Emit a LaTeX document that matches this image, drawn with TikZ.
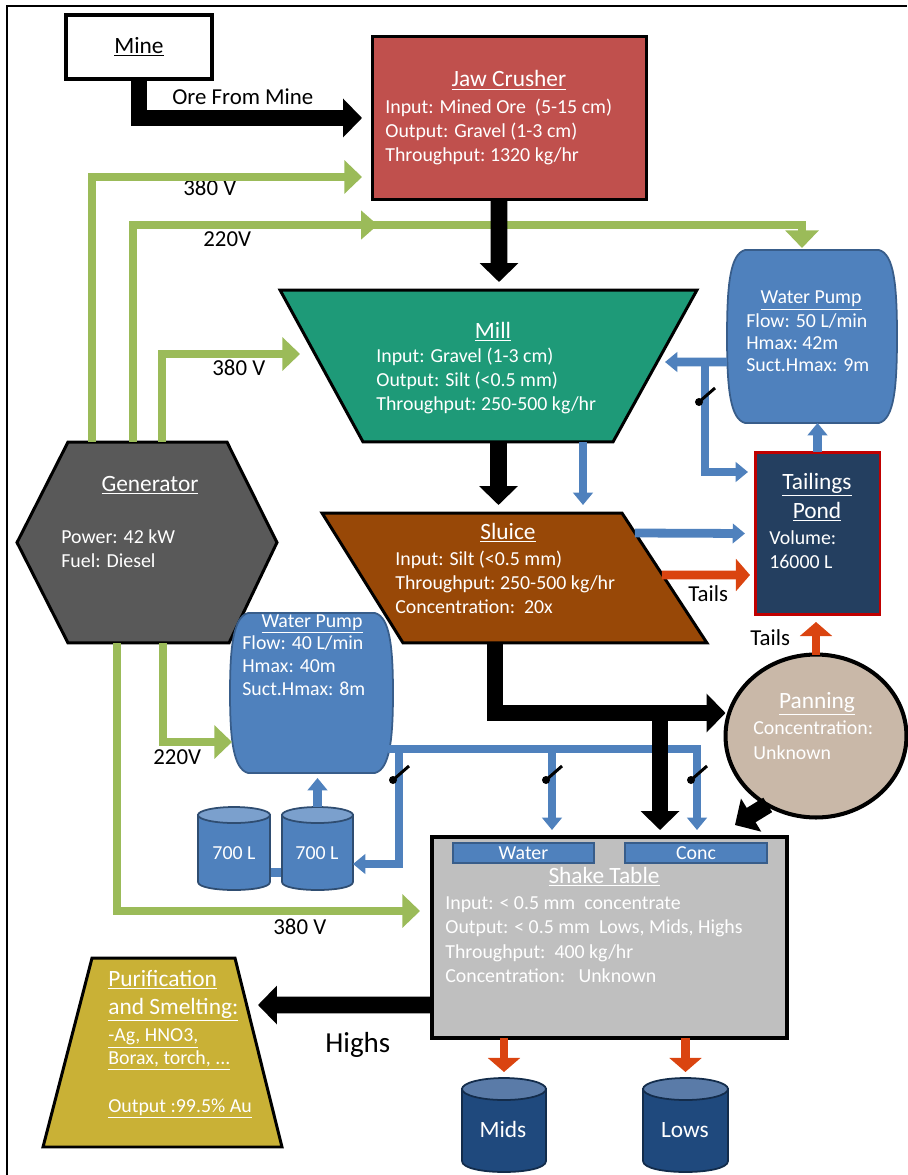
\documentclass[tikz,border=0pt]{standalone}
\usepackage{fontspec}
\setmainfont{Carlito}
\usetikzlibrary{arrows.meta, positioning, shapes.geometric, calc, backgrounds, decorations.markings}
\definecolor{cjaw}{HTML}{C0504D}
\definecolor{cmill}{HTML}{1E9A78}
\definecolor{csluice}{HTML}{984807}
\definecolor{cgen}{HTML}{595959}
\definecolor{cpump}{HTML}{4F81BD}
\definecolor{cpumpdark}{HTML}{385D8A}
\definecolor{cpond}{HTML}{243F60}
\definecolor{cpondedge}{HTML}{C00000}
\definecolor{cpan}{HTML}{C9B8A8}
\definecolor{cshake}{HTML}{BFBFBF}
\definecolor{cgold}{HTML}{C9B136}
\definecolor{cdrum}{HTML}{1F497D}
\definecolor{cdrumtop}{HTML}{5A7BA8}
\definecolor{cgreen}{HTML}{9BBB59}
\definecolor{ctails}{HTML}{DA4410}
\newcommand{\bodyfont}{\fontsize{11.3}{13.6}\selectfont}
\newcommand{\headfont}{\fontsize{13.3}{16}\selectfont}
\newcommand{\lblfont}{\fontsize{13}{15}\selectfont}
% barrel outline of a pump, drawn round its node
\newcommand{\barrel}[1]{%
  \draw[draw=cpumpdark, fill=cpump, line width=1pt]
    ($(#1.north west)+(18,0)$) -- ($(#1.north east)+(-18,0)$)
    .. controls ($(#1.north east)+(-3,4)$) and ($(#1.north east)+(0,35)$) .. (#1.east)
    .. controls ($(#1.south east)+(0,-35)$) and ($(#1.south east)+(-3,-4)$) .. ($(#1.south east)+(-18,0)$)
    -- ($(#1.south west)+(18,0)$)
    .. controls ($(#1.south west)+(3,-4)$) and ($(#1.south west)+(0,-35)$) .. (#1.west)
    .. controls ($(#1.north west)+(0,35)$) and ($(#1.north west)+(3,4)$) .. ($(#1.north west)+(18,0)$) -- cycle;}
% drum: node, body colour, top colour, cap radius, half width
\newcommand{\drum}[5]{%
  \draw[draw=#2!60!black, fill=#2, line width=1pt]
    ($(#1.north west)+(0,#4)$) -- ($(#1.south west)+(0,-#4)$)
    .. controls ($(#1.south west)+(0,{#4/3})$) and ($(#1.south east)+(0,{#4/3})$) .. ($(#1.south east)+(0,-#4)$)
    -- ($(#1.north east)+(0,#4)$) -- cycle;
  \draw[draw=#2!60!black, fill=#3, line width=1pt] ($(#1.north)+(0,#4)$) ellipse [x radius=#5, y radius=#4];}
\tikzset{
  every picture/.style={x=0.02cm, y=-0.02cm},
  shapebox/.style={inner sep=0pt, outer sep=0pt},
  edge/.style={draw=black, line width=1.7pt, line join=miter},
  flow/.style={draw=black, color=black, line width=9.6pt, -{Triangle[width=21.5pt, length=10.8pt]}},
  water/.style={draw=cpump, color=cpump, line width=5pt, -{Triangle[width=11pt, length=7pt]}},
  power/.style={draw=cgreen, color=cgreen, line width=4.5pt, -{Triangle[width=18.5pt, length=10pt]}},
  tails/.style={draw=ctails, color=ctails, line width=5pt, -{Triangle[width=18pt, length=8pt]}},
  txt/.style={text=white, font=\bodyfont, inner sep=0pt, anchor=base west},
  headtxt/.style={text=white, font=\headfont, inner sep=0pt, anchor=base},
  lbl/.style={text=black, font=\lblfont, inner sep=0pt, anchor=base west},
  valve/.pic={\fill (-6,0) circle[radius=4]; \draw[line width=1.7pt] (-6,0) -- (10,-14);},
}
\begin{document}
\begin{tikzpicture}
  \useasboundingbox (0,0) rectangle (907,1175);
  \draw[line width=1.1pt] (7,1175) -- (7,6) -- (907,6);

  % boxes
  \node[shapebox, draw, line width=2.3pt, fill=white, minimum width=2.92cm, minimum height=1.28cm, font=\headfont] (mine) at (139,47) {\underline{Mine}};
  \node[shapebox, draw, line width=1.7pt, fill=cjaw, minimum width=5.5cm, minimum height=3.28cm] (jaw) at (509.5,118) {};
  \node[shapebox, minimum width=8.34cm, minimum height=3.04cm] (mill) at (488.5,366) {};
  \node[shapebox, minimum width=7.7cm, minimum height=2.6cm] (sluice) at (514.5,578) {};
  \node[shapebox, minimum width=5.2cm, minimum height=4.02cm] (gen) at (147,542.5) {};
  \node[shapebox, minimum width=3.4cm, minimum height=3.46cm] (pumpR) at (812,336.5) {};
  \node[shapebox, minimum width=3.26cm, minimum height=3.2cm] (pumpL) at (311.5,693) {};
  \node[shapebox, draw=cpondedge, line width=1.7pt, fill=cpond, minimum width=2.5cm, minimum height=3.26cm] (tail) at (817.5,533.5) {};
  \node[shapebox, ellipse, draw, line width=2.3pt, fill=cpan, minimum width=3.62cm, minimum height=3.26cm] (pan) at (816,736) {};
  \node[shapebox, draw, line width=2.3pt, fill=cshake, minimum width=7.1cm, minimum height=4.02cm] (shake) at (609.5,937.5) {};
  \node[shapebox, draw=cpumpdark, line width=1pt, fill=cpump, minimum width=2.82cm, minimum height=0.4cm, font=\bodyfont, text=white] (water) at (523.5,853) {Water};
  \node[shapebox, draw=cpumpdark, line width=1pt, fill=cpump, minimum width=2.84cm, minimum height=0.4cm, font=\bodyfont, text=white] (conc) at (696,853) {Conc};
  \node[shapebox, minimum width=4.78cm, minimum height=3.78cm] (purif) at (162.5,1052.5) {};
  \node[shapebox, minimum width=1.44cm, minimum height=1.66cm] (tank1) at (234,848.5) {};
  \node[shapebox, minimum width=1.42cm, minimum height=1.66cm] (tank2) at (317.5,848.5) {};
  \node[shapebox, minimum width=1.68cm, minimum height=1.88cm] (mids) at (504,1125) {};
  \node[shapebox, minimum width=1.7cm, minimum height=1.88cm] (lows) at (685.5,1125) {};

  \begin{scope}[on background layer]
    \draw[edge, fill=cmill] (mill.north west) -- (mill.north east) -- ($(mill.south east)+(-84,0)$) -- ($(mill.south west)+(83,0)$) -- cycle;
    \draw[edge, fill=csluice] (sluice.north west) -- ($(sluice.north east)+(-85,0)$) -- (sluice.south east) -- ($(sluice.south west)+(81,0)$) -- cycle;
    \draw[edge, fill=cgen] ($(gen.north west)+(51,0)$) -- ($(gen.north east)+(-50,0)$) -- (gen.east) -- ($(gen.south east)+(-48,0)$) -- ($(gen.south west)+(51,0)$) -- (gen.west) -- cycle;
    \draw[edge, fill=cgold] ($(purif.north west)+(49,0)$) -- ($(purif.north east)+(-47,0)$) -- (purif.south east) -- (purif.south west) -- cycle;
    \barrel{pumpR}
    \barrel{pumpL}
    \draw[cpump, line width=5pt] ($(tank1.east)+(0,24)$) -- ($(tank2.west)+(0,24)$);
    \drum{tank1}{cpump}{cpump!75!white}{8}{36}
    \drum{tank2}{cpump}{cpump!75!white}{8}{35.5}
    \drum{mids}{cdrum}{cdrumtop}{11}{42}
    \drum{lows}{cdrum}{cdrumtop}{11}{42.5}
  \end{scope}

  % texts
  \node[headtxt] (jawT) at (509,87) {\underline{Jaw Crusher}};
  \foreach \t [count=\i] in {Input: Mined Ore\ \ (5-15 cm), Output: Gravel (1-3 cm), Throughput:\ 1320 kg/hr}
    \node[txt] (jaw-\i) at (385,90+24*\i) {\t};
  \node[headtxt] (millT) at (493,338) {\underline{Mill}};
  \foreach \t [count=\i] in {Input: Gravel (1-3 cm), Output: Silt (<0.5 mm), Throughput:\ 250-500 kg/hr}
    \node[txt] (mill-\i) at (376,338+24*\i) {\t};
  \node[headtxt] (sluiceT) at (508,539) {\underline{Sluice}};
  \foreach \t [count=\i] in {Input: Silt (<0.5 mm), Throughput:\ 250-500 kg/hr, Concentration:\ \ 20x}
    \node[txt] (sluice-\i) at (395,541+24*\i) {\t};
  \node[headtxt] (genT) at (150,491) {\underline{Generator}};
  \node[txt] (gen-1) at (61,543) {Power: 42 kW};
  \node[txt] (gen-2) at (61,567) {Fuel: Diesel};
  \node[headtxt, font=\bodyfont] (pumpRT) at (811,304) {\underline{Water Pump}};
  \foreach \t [count=\i] in {Flow: 50 L/min, Hmax:\ 42m, Suct.Hmax: 9m}
    \node[txt] (pumpR-\i) at (746,306+22*\i) {\t};
  \node[headtxt, font=\bodyfont] (pumpLT) at (312,627) {\underline{Water Pump}};
  \foreach \t [count=\i] in {Flow: 40 L/min, Hmax: 40m, Suct.Hmax: 8m}
    \node[txt] (pumpL-\i) at (242,626+23*\i) {\t};
  \node[headtxt] (tailT) at (817,489) {\underline{Tailings}};
  \node[headtxt] (tailP) at (817,518) {\underline{Pond}};
  \node[txt] (tail-1) at (769,544) {Volume:};
  \node[txt] (tail-2) at (769,568) {16000 L};
  \node[headtxt] (panT) at (817,708) {\underline{Panning}};
  \node[txt] (pan-1) at (753,734) {Concentration:};
  \node[txt] (pan-2) at (753,759) {Unknown};
  \node[headtxt] (shakeT) at (604,883) {\underline{Shake Table}};
  \foreach \t [count=\i] in {Input: < 0.5 mm\ \ concentrate, {Output: < 0.5 mm\ \ Lows, Mids, Highs}, Throughput:\ \ 400 kg/hr, Concentration:\ \ \ Unknown}
    \node[txt] (shake-\i) at (445,884.5+24.5*\i) {\t};
  \node[txt, font=\headfont] (purif-1) at (108,986) {\underline{Purification}};
  \node[txt, font=\headfont] (purif-2) at (108,1014) {\underline{and Smelting:}};
  \node[txt] (purif-3) at (108,1041) {\underline{-Ag, HNO3,}};
  \node[txt] (purif-4) at (108,1064) {\underline{Borax, torch, ...}};
  \node[txt] (purif-5) at (108,1112) {\underline{Output :99.5\% Au}};
  \node[headtxt, font=\bodyfont] (tank1T) at (234,859) {700 L};
  \node[headtxt, font=\bodyfont] (tank2T) at (317,859) {700 L};
  \node[headtxt] (midsT) at (503,1137) {Mids};
  \node[headtxt] (lowsT) at (685,1137) {Lows};

  % labels
  \node[lbl] (oreL) at (172,105) {Ore From Mine};
  \node[lbl] (v1) at (183,196) {380 V};
  \node[lbl] (v2) at (203,247) {220V};
  \node[lbl] (v3) at (212,376) {380 V};
  \node[lbl] (v4) at (153,764) {220V};
  \node[lbl] (v5) at (273,934) {380 V};
  \node[lbl] (tailsA) at (688,601) {Tails};
  \node[lbl] (tailsB) at (750,645) {Tails};
  \node[lbl, font=\fontsize{16.5}{19}\selectfont] (highsL) at (325,1052) {Highs};

  % power lines
  \draw[power] ($(gen.north)+(-55,0)$) |- ($(jaw.south west)+(-10,-23)$);
  \draw[power, postaction={decorate}, decoration={markings, mark=at position 0.508 with {\arrow{Triangle[width=16pt, length=9.5pt]}}}]
    ($(gen.north)+(-14,0)$) |- ($(pumpR.north)+(-10,-25)$) -- ($(pumpR.north)+(-10,-2)$);
  \draw[power] ($(gen.north)+(15,0)$) |- ($(mill.west)+(20,-12)$);
  \draw[power] ($(gen.south)+(-30,0)$) |- ($(shake.west)+(-12,-26.5)$);
  \draw[power] ($(gen.south)+(16,0)$) |- ($(pumpL.west)+(2,49)$);

  % water lines
  \draw[water] ($(pumpR.west)+(0,25.5)$) -- ($(mill.east)+(-32,-4)$);
  \draw[water] ($(pumpR.west)+(-22,25.5)$) |- ($(tail.west)+(-7,-61.5)$);
  \draw[water] (tail.north) -- (tail.north |- pumpR.south);
  \draw[water] ($(mill.south)+(94.5,0)$) -- ($(sluice.north)+(68.5,-8)$);
  \draw[water] ($(sluice.east)+(-72,-45)$) -- ($(tail.west)+(-10,0)$);
  \draw[water] ($(pumpL.east)+(-5,56)$) -| ($(shake.north)+(87.5,-7)$);
  \draw[water] ($(shake.north)+(-57.5,-88)$) -- ($(shake.north)+(-57.5,-7)$);
  \draw[water] ($(pumpL.east)+(6,56)$) |- ($(tank2.east)+(0,15.5)$);
  \draw[water] (tank2.north) -- ($(tank2.north |- pumpL.south)+(0,5)$);
  \foreach \vx/\vy in {552/780, 697/780, 399/780, 705/402}
    \pic at (\vx,\vy) {valve};

  % material flow
  \draw[flow] (mine.south) |- ($(jaw.west)+(-10,0)$);
  \draw[flow] ($(jaw.south)+(-10.5,0)$) -- ($(mill.north)+(10.5,-8)$);
  \draw[flow] ($(mill.south)+(10,0)$) -- ($(sluice.north)+(-16,-8)$);
  \draw[flow] ($(sluice.south)+(-19.5,0)$) |- ($(pan.west)+(0,-23)$);
  \draw[flow] ($(shake.north)+(50.5,-124)$) -- ($(shake.north)+(50.5,-7)$);
  \draw[flow] (pan.235) -- ($(shake.north east)+(-52,-12)$);
  \draw[flow] ($(shake.west)+(0,67.5)$) -- ($(purif.east)+(-24,-47.5)$);

  % tails
  \draw[tails] ($(sluice.east)+(-45,-3)$) -- ($(tail.west)+(-5,41.5)$);
  \draw[tails] (pan.north) -- ($(pan.north |- tail.south)+(0,7)$);
  \draw[tails] (mids.north |- shake.south) -- ($(mids.north)+(0,-6)$);
  \draw[tails] (lows.north |- shake.south) -- ($(lows.north)+(0,-6)$);
\end{tikzpicture}
\end{document}
